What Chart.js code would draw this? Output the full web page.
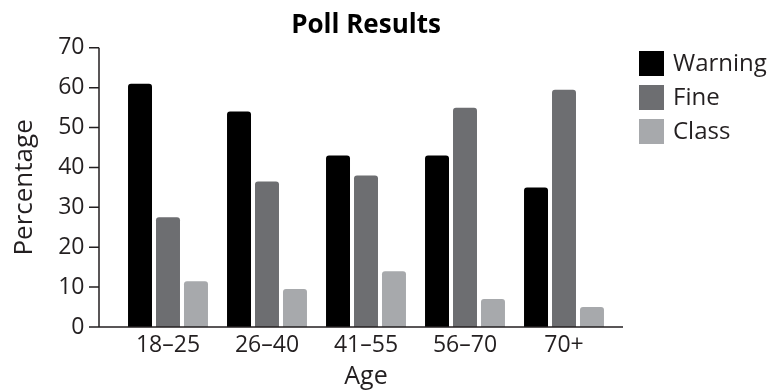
<!DOCTYPE html>
<html lang="en">

<head>
    <meta charset="UTF-8">
    <title>Poll Results</title>
    <script src="https://cdn.jsdelivr.net/npm/chart.js"></script>
    <style>
        body { margin: 0; background-color: #ffffff; }
        #grafico { width: 770px; height: 392px; }
    </style>
</head>

<body>
    <div id="grafico">
        <canvas id="myChartCanvas" width="770" height="392"></canvas>
    </div>
</body>

</html>

<script>

    // dados
    const idades = ['18–25', '26–40', '41–55', '56–70', '70+'];
    const warning = [61, 54, 43, 43, 35];
    const fine = [27.5, 36.5, 38, 55, 59.5];
    const classe = [11.5, 9.5, 14, 7, 5];
    const seriesNomes = ['Warning', 'Fine', 'Class'];
    const yTicks = [0, 10, 20, 30, 40, 50, 60, 70];

    const cores = ['#000000', '#6d6e71', '#a7a9ac'];
    const fonte = "'Open Sans', sans-serif";
    const corTexto = '#231f20';

    // eixos desenhados a mao para estender a linha alem da area das barras
    const eixosPlugin = {
        id: 'eixos',
        afterDraw(chart) {
            const ctx = chart.ctx;
            const area = chart.chartArea;
            const y = chart.scales.y;
            const x0 = area.left - 19.5;
            ctx.save();
            ctx.strokeStyle = corTexto;
            ctx.lineWidth = 1.5;
            ctx.beginPath();
            ctx.moveTo(x0, area.top);
            ctx.lineTo(x0, area.bottom);
            ctx.lineTo(area.right + 9.5, area.bottom);
            for (const t of yTicks) {
                const py = y.getPixelForValue(t);
                ctx.moveTo(x0 - 10, py);
                ctx.lineTo(x0, py);
            }
            ctx.stroke();

            // legenda
            ctx.textBaseline = 'middle';
            ctx.textAlign = 'left';
            ctx.font = "24px " + fonte;
            chart.data.datasets.forEach(function (ds, i) {
                const top = 51 + i * 34;
                ctx.fillStyle = ds.backgroundColor;
                ctx.fillRect(639, top, 25, 25);
                ctx.fillStyle = corTexto;
                ctx.fillText(ds.label, 673, top + 13);
            });
            ctx.restore();
        }
    };

    const dados = {
        labels: idades,
        datasets: [
            { label: seriesNomes[0], data: warning, backgroundColor: cores[0] },
            { label: seriesNomes[1], data: fine, backgroundColor: cores[1] },
            { label: seriesNomes[2], data: classe, backgroundColor: cores[2] }
        ]
    };

    const config = {
        type: 'bar',
        data: dados,
        options: {
            responsive: false,
            animation: false,
            layout: { padding: { top: 0, right: 156.5, bottom: 0, left: 0 } },
            datasets: {
                bar: {
                    categoryPercentage: 0.848,
                    barPercentage: 0.857,
                    borderRadius: { topLeft: 3, topRight: 3 },
                    borderSkipped: 'bottom'
                }
            },
            plugins: {
                legend: { display: false },
                tooltip: { enabled: false },
                title: {
                    display: true,
                    text: 'Poll Results',
                    fullSize: false,
                    color: '#000000',
                    font: { family: fonte, size: 26, weight: 'bold', lineHeight: 1.2 },
                    padding: { top: 6, bottom: 6.8 }
                }
            },
            scales: {
                x: {
                    grid: { display: false, drawTicks: false },
                    border: { display: false },
                    ticks: { color: corTexto, font: { family: fonte, size: 23 }, padding: 5 },
                    title: {
                        display: true, text: 'Age', color: corTexto,
                        font: { family: fonte, size: 25 }, padding: { top: 0, bottom: 0 }
                    },
                    afterFit(scale) { scale.height = 65; }
                },
                y: {
                    min: 0,
                    max: 70,
                    afterBuildTicks(scale) { scale.ticks = yTicks.map(v => ({ value: v })); },
                    grid: { display: false, drawTicks: false },
                    border: { display: false },
                    ticks: { color: corTexto, font: { family: fonte, size: 23 }, padding: 34 },
                    title: {
                        display: true, text: 'Percentage', color: corTexto,
                        font: { family: fonte, size: 26 }, padding: { top: 9, bottom: 0 }
                    },
                    afterFit(scale) { scale.width = 118.5; }
                }
            }
        },
        plugins: [eixosPlugin]
    };

    let myChart = new Chart(
        document.getElementById('myChartCanvas'),
        config
    );

</script>
